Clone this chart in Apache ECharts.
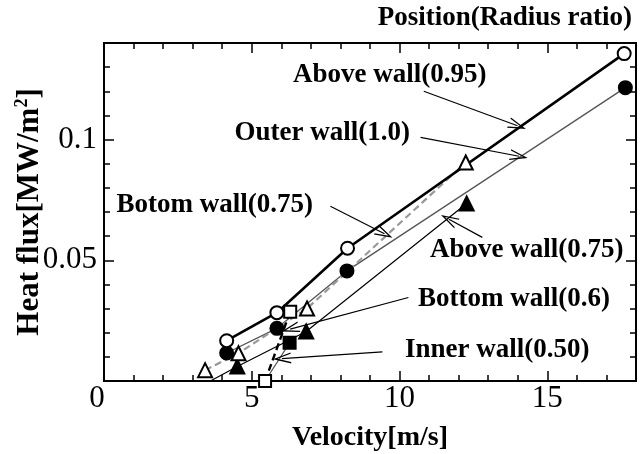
<!DOCTYPE html>
<html>
<head>
<meta charset="utf-8">
<script src="https://cdn.jsdelivr.net/npm/echarts@6/dist/echarts.min.js"></script>
<style>html,body{margin:0;padding:0;background:#fff}#c{width:642px;height:454px}</style>
</head>
<body>
<div id="c"></div>
<script>
// ---- data ----
const xTickLabels = ['0', '5', '10', '15'];
const yTickLabels = ['0.05', '0.1'];
const aboveWall095 = [[4.15, 0.0167], [5.85, 0.0283], [8.24, 0.0550], [17.6, 0.1356]];
const outerWall10 = [[4.15, 0.0116], [5.85, 0.0218], [8.22, 0.0456], [17.64, 0.1215]];
const botomWall075 = [[3.42, 0.0045], [4.55, 0.0115], [6.87, 0.0300], [12.24, 0.0905]];
const aboveWall075 = [[3.6, 0.0], [4.51, 0.0060], [6.84, 0.0205], [12.27, 0.0735]];
const bottomWall06 = [[5.45, 0.0], [6.3, 0.0287]];
const innerWall050 = [[5.45, 0.0], [6.28, 0.0158]];
const annotationLabels = ['Above wall(0.95)', 'Outer wall(1.0)', 'Botom wall(0.75)', 'Above wall(0.75)', 'Bottom wall(0.6)', 'Inner wall(0.50)'];
const arrowFrom = [[10.82, 0.1200], [10.71, 0.1009], [7.66, 0.0724], [12.80, 0.0595], [10.3, 0.0346], [9.42, 0.0121]];
const arrowTo = [[13.99, 0.1057], [14.04, 0.0931], [9.49, 0.0610], [11.67, 0.0670], [6.30, 0.0215], [6.02, 0.0093]];

const FONT = '"Liberation Serif", "Times New Roman", serif';
const chart = echarts.init(document.getElementById('c'), null, {renderer: 'canvas'});

const frame = {show: true, onZero: false, lineStyle: {color: '#000', width: 2}};
function xAx(pos, interval, len, labels) {
  return {
    type: 'value', position: pos, min: 0, max: 18, interval: interval, offset: 0,
    axisLine: frame, splitLine: {show: false},
    axisTick: {show: true, inside: true, length: len, lineStyle: {color: '#000', width: 1.5}},
    axisLabel: labels ? {
      show: true, margin: 2, color: '#000', fontFamily: FONT, fontSize: 31,
      rich: {z: {fontFamily: FONT, fontSize: 31, color: '#000', padding: [0, 14, 0, 0]}},
      formatter: v => {
        const s = String(v);
        if (!xTickLabels.includes(s)) return '';
        return s === '0' ? '{z|0}' : s;
      }
    } : {show: false}
  };
}
function yAx(pos, interval, len, labels) {
  return {
    type: 'value', position: pos, min: 0, max: 0.14, interval: interval, offset: 0,
    axisLine: frame, splitLine: {show: false},
    axisTick: {show: true, inside: true, length: len, lineStyle: {color: '#000', width: 1.5}},
    axisLabel: labels ? {
      show: true, margin: 7, color: '#000', fontFamily: FONT, fontSize: 31,
      formatter: v => { const s = String(+v.toFixed(4)); return yTickLabels.includes(s) ? s : ''; }
    } : {show: false}
  };
}

const xMain = xAx('bottom', 5, 10, true);
xMain.name = 'Velocity[m/s]';
xMain.nameLocation = 'middle';
xMain.nameGap = 43;
xMain.nameMoveOverlap = false;
xMain.nameTextStyle = {fontFamily: FONT, fontWeight: 'bold', fontSize: 28, color: '#000'};
const yMain = yAx('left', 0.05, 10, true);
yMain.name = '{a|Heat flux[MW/m}{b|2}{a|]}';
yMain.nameLocation = 'middle';
yMain.nameGap = 57;
yMain.nameMoveOverlap = false;
yMain.nameTextStyle = {
  color: '#000',
  rich: {
    a: {fontFamily: FONT, fontWeight: 'bold', fontSize: 31, color: '#000'},
    b: {fontFamily: FONT, fontWeight: 'bold', fontSize: 18, color: '#000', padding: [0, 0, 16, 0]}
  }
};

function markerSeries(name, data, symbol, fill, size, line, hideFirst) {
  return {
    name: name, type: 'line', xAxisIndex: 0, yAxisIndex: 0,
    data: data.map((d, i) => (hideFirst && i === 0) ? {value: d, symbol: 'none'} : d),
    symbol: symbol, symbolSize: size, showSymbol: true,
    itemStyle: {color: fill, borderColor: '#000', borderWidth: 2, opacity: 1},
    lineStyle: line, z: 3, animation: false
  };
}

const arrowHead = 'path://M5,0 L10,12 L8.8,12 L5,3 L1.2,12 L0,12 Z';
const arrowSeries = {
  type: 'line', data: [], xAxisIndex: 0, yAxisIndex: 0, animation: false,
  markLine: {
    silent: true, animation: false,
    symbol: ['none', arrowHead], symbolSize: [11, 18],
    label: {show: false},
    lineStyle: {color: '#000', width: 1.2, type: 'solid'},
    data: arrowFrom.map((f, i) => [{coord: f}, {coord: arrowTo[i]}])
  }
};

const textPos = [
  {x: 293, y: 75, align: 'left'},
  {x: 410, y: 133, align: 'right'},
  {x: 313, y: 205, align: 'right'},
  {x: 430, y: 250, align: 'left'},
  {x: 418, y: 299, align: 'left'},
  {x: 405, y: 350, align: 'left'}
];
const graphics = annotationLabels.map((t, i) => ({
  type: 'text', x: textPos[i].x, y: textPos[i].y, z: 10,
  style: {text: t, align: textPos[i].align, verticalAlign: 'middle', fill: '#000',
    font: 'bold 27px ' + FONT}
}));
graphics.push({
  type: 'text', x: 632, y: 18, z: 10,
  style: {text: 'Position(Radius ratio)', align: 'right', verticalAlign: 'middle', fill: '#000',
    font: 'bold 27px ' + FONT}
});

chart.setOption({
  backgroundColor: '#fff',
  animation: false,
  grid: {left: 104, top: 43, width: 532, height: 338, containLabel: false, outerBoundsMode: 'none'},
  xAxis: [xMain, xAx('bottom', 1, 6, false), xAx('top', 5, 10, false), xAx('top', 1, 6, false)],
  yAxis: [yMain, yAx('left', 0.01, 6, false), yAx('right', 0.05, 10, false), yAx('right', 0.01, 6, false)],
  graphic: graphics,
  series: [
    arrowSeries,
    markerSeries('Outer wall(1.0)', outerWall10, 'circle', '#000', 13, {color: '#555', width: 1.3}),
    markerSeries('Above wall(0.75)', aboveWall075, 'triangle', '#000', 14, {color: '#000', width: 1.2}, true),
    markerSeries('Botom wall(0.75)', botomWall075, 'triangle', '#fff', 14, {color: '#999', width: 2.2, type: [7, 4]}),
    markerSeries('Inner wall(0.50)', innerWall050, 'rect', '#000', 12, {color: '#555', width: 1.2}, true),
    markerSeries('Above wall(0.95)', aboveWall095, 'circle', '#fff', 13, {color: '#000', width: 2.6}),
    markerSeries('Bottom wall(0.6)', bottomWall06, 'rect', '#fff', 12, {color: '#000', width: 2.4, type: [7, 4]})
  ]
});
</script>
</body>
</html>
